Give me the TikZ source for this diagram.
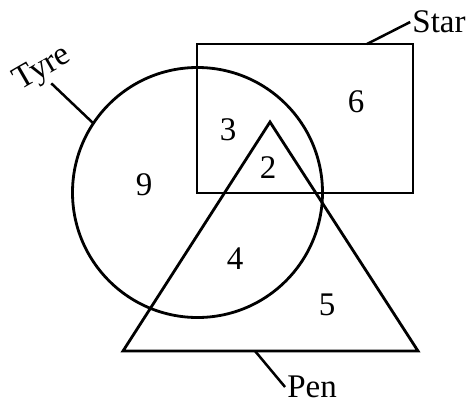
\documentclass[tikz,border=0pt]{standalone}
\usepackage{fontspec}
\setmainfont{Liberation Serif}
\usetikzlibrary{positioning}

\begin{document}
\begin{tikzpicture}[
    x=1pt, y=-1pt,
    every node/.style={font=\fontsize{33}{33}\selectfont},
    set/.style={draw=black, line width=2.8pt},
    tag/.style={inner sep=2pt},
    lead/.style={draw=black, line width=2.5pt}
  ]
  \useasboundingbox (0,0) rectangle (471,405);

  % the three sets
  \draw[set] (197.5,192.5) circle[radius=125];
  \draw[set] (197,44) rectangle (413,193);
  \draw[set] (270,122) -- (123,351) -- (418,351) -- cycle;

  % counts
  \node (n3) at (228,130) {3};
  \node (n6) at (356,102) {6};
  \node (n9) at (144,185) {9};
  \node (n2) at (268,168) {2};
  \node (n4) at (235,259) {4};
  \node (n5) at (327,305) {5};

  % labels
  \node[tag] (star) at (439,22) {Star};
  \node[tag, rotate=30] (tyre) at (43,69) {Tyre};
  \node[tag] (pen) at (312,387) {Pen};

  \coordinate (starpt) at (367,44);
  \coordinate (tyrept) at (93,123);
  \coordinate (penpt) at (255,351);

  \draw[lead] (starpt) -- (star.west);
  \draw[lead] (tyrept) -- (tyre.south);
  \draw[lead] (penpt) -- (pen.west);

\end{tikzpicture}
\end{document}
